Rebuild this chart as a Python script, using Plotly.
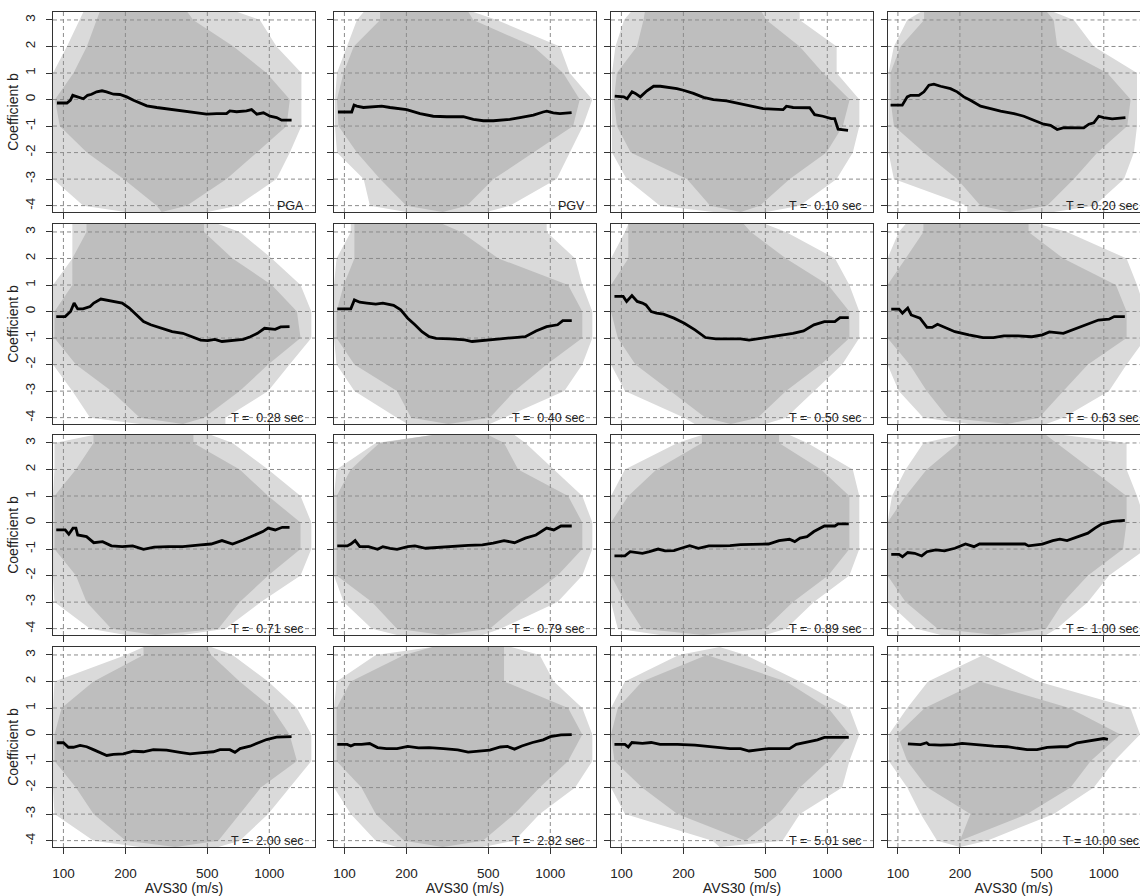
import math
import plotly.graph_objects as go

# ---------------- data ----------------
ENV_Y = [-4.24, -4, -3, -2, -1, 0, 1, 2, 3, 3.3]   # levels where the grey band extents were read
X_TICKS = [100, 200, 500, 1000]
Y_TICKS = [-4, -3, -2, -1, 0, 1, 2, 3]
X_RANGE = [89, 1667]
Y_RANGE = [-4.24, 3.30]
PERIODS = [None, None, 0.10, 0.20, 0.28, 0.40, 0.50, 0.63, 0.71, 0.79, 0.89, 1.00, 2.00, 2.82, 5.01, 10.00]
NAMES = ["PGA", "PGV"]

# PGA
pga_x = [93, 104, 108, 111, 114, 120, 125, 131, 137, 145, 154, 162, 175, 188, 203, 219, 236, 254, 284, 317, 368, 412, 461, 496, 555, 620, 643, 694, 775, 820, 869, 936, 1008, 1085, 1148, 1283]
pga_y = [-0.13, -0.13, -0.03, 0.16, 0.13, 0.08, 0.03, 0.16, 0.2, 0.29, 0.33, 0.29, 0.2, 0.19, 0.1, -0.03, -0.13, -0.24, -0.3, -0.35, -0.4, -0.46, -0.53, -0.55, -0.53, -0.53, -0.43, -0.46, -0.43, -0.38, -0.55, -0.5, -0.63, -0.68, -0.78, -0.78]
pga_out_lo = [200, 125, 89, 89, 89, 89, 89, 104, 120, 125]
pga_out_hi = [500, 700, 1084, 1258, 1432, 1432, 1432, 1084, 900, 700]
pga_den_lo = [300, 284, 196, 130, 96, 91, 112, 130, 145, 150]
pga_den_hi = [300, 397, 620, 869, 1213, 1258, 970, 670, 427, 400]

# PGV
pgv_x = [93, 108.5, 111.4, 114.8, 123.7, 138.3, 151.7, 166.6, 200.6, 233, 270, 314, 378, 423, 473, 529, 636, 712, 828, 923, 962, 1034, 1113, 1269]
pgv_y = [-0.47, -0.47, -0.21, -0.25, -0.3, -0.28, -0.25, -0.3, -0.38, -0.53, -0.63, -0.65, -0.65, -0.75, -0.8, -0.8, -0.75, -0.68, -0.59, -0.47, -0.44, -0.5, -0.53, -0.49]
pgv_out_lo = [200, 133, 124, 92, 90, 90, 92, 103, 115, 124]
pgv_out_hi = [490, 636, 1074, 1242, 1440, 1600, 1242, 1113, 550, 423]
pgv_den_lo = [300, 200, 149, 115, 93.5, 92, 99, 111, 149, 149]
pgv_den_hi = [300, 393, 530, 828, 1290, 1390, 1155, 828, 423, 400]

# T = 0.10
t010_x = [92.8, 102.6, 106.5, 112.6, 116.9, 123.6, 133, 143.3, 154.4, 172.7, 185.9, 200, 223.8, 250.3, 279.7, 324.3, 376, 437, 488, 545, 610, 633, 682, 821, 868, 952, 1046, 1086, 1128, 1261]
t010_y = [0.13, 0.1, 0.03, 0.29, 0.23, 0.1, 0.33, 0.5, 0.5, 0.45, 0.41, 0.35, 0.23, 0.08, 0.0, -0.05, -0.15, -0.25, -0.34, -0.36, -0.38, -0.25, -0.3, -0.31, -0.57, -0.63, -0.72, -0.72, -1.12, -1.16]
t010_out_lo = [280, 154, 106, 90, 90, 90, 90, 93.5, 103, 111]
t010_out_hi = [506, 734, 1110, 1330, 1431, 1431, 1110, 1110, 734, 734]
t010_den_lo = [380, 270, 208, 111, 95, 92, 95, 119, 128, 130]
t010_den_hi = [380, 470, 657, 990, 1190, 1284, 953, 734, 506, 480]

# T = 0.20
t020_x = [92.1, 105, 111, 115.2, 126.4, 133.8, 141.4, 149.5, 161, 180, 194, 209, 225, 252, 282, 315, 366, 409, 457, 511, 551, 594, 640, 715, 799, 846, 894, 945, 999, 1098, 1274]
t020_y = [-0.21, -0.21, 0.1, 0.16, 0.16, 0.29, 0.54, 0.58, 0.5, 0.41, 0.29, 0.1, -0.03, -0.25, -0.34, -0.44, -0.53, -0.63, -0.78, -0.93, -0.97, -1.13, -1.06, -1.07, -1.07, -0.93, -0.88, -0.63, -0.68, -0.73, -0.68]
t020_out_lo = [217, 217, 95.6, 90, 90, 90, 90, 95.6, 111, 129]
t020_out_hi = [571, 900, 1253, 1400, 1450, 1450, 1450, 894, 715, 571]
t020_den_lo = [350, 252, 194, 134, 95.6, 92, 92, 103, 134, 134]
t020_den_hi = [350, 530, 715, 931, 1300, 1350, 1039, 594, 571, 530]

# T = 0.28
t028_x = [92.3, 102, 108.3, 112.7, 117.3, 124.5, 134.8, 140.4, 152, 164.5, 181.8, 192.9, 208.9, 226, 245, 265.4, 299.2, 337.3, 380, 428.5, 464, 502, 544, 589, 663, 747, 809, 876, 948, 1068, 1135, 1254]
t028_y = [-0.19, -0.19, 0.0, 0.32, 0.1, 0.1, 0.19, 0.32, 0.47, 0.42, 0.34, 0.32, 0.13, -0.13, -0.38, -0.5, -0.63, -0.76, -0.82, -0.97, -1.08, -1.1, -1.05, -1.13, -1.1, -1.05, -0.95, -0.82, -0.63, -0.67, -0.58, -0.57]
t028_out_lo = [235, 134.8, 110.5, 89, 89, 89, 89, 110.5, 110.5, 110.5]
t028_out_hi = [612, 612, 987, 1254, 1600, 1600, 1418, 1028, 718, 565]
t028_den_lo = [380, 235, 171, 115, 90.5, 90.5, 110.5, 110.5, 129.5, 129.5]
t028_den_hi = [380, 482, 718, 987, 1418, 1362, 1028, 663, 482, 482]

# T = 0.40
t040_x = [92.3, 107.4, 111.8, 118.7, 128.5, 142, 153.7, 173.3, 187.7, 203, 220, 238, 258, 279, 328, 384, 417, 488, 572, 670, 756, 852, 960, 1085, 1150, 1271]
t040_y = [0.1, 0.1, 0.44, 0.35, 0.32, 0.28, 0.32, 0.23, 0.06, -0.25, -0.5, -0.76, -0.95, -1.01, -1.03, -1.07, -1.13, -1.07, -1.03, -0.98, -0.95, -0.73, -0.57, -0.5, -0.34, -0.34]
t040_out_lo = [203, 180, 111.8, 91.6, 89, 89, 89, 91.6, 107.4, 107.4]
t040_out_hi = [508, 596, 1170, 1430, 1600, 1600, 1430, 1320, 960, 960]
t040_den_lo = [320, 211, 180, 111.8, 91.6, 91.6, 99.2, 111.8, 111.8, 111.8]
t040_den_hi = [320, 508, 670, 960, 1430, 1430, 1220, 560, 369, 300]

# T = 0.50
t050_x = [92.5, 102, 106, 112.5, 119.3, 126.5, 131.5, 139.5, 147.9, 160, 180, 202, 227.6, 256, 288, 337, 379, 417, 460, 518, 583, 681, 767, 861, 968, 1088, 1153, 1271]
t050_y = [0.57, 0.57, 0.38, 0.6, 0.38, 0.32, 0.25, 0.0, -0.06, -0.1, -0.25, -0.44, -0.69, -0.98, -1.03, -1.03, -1.03, -1.08, -1.03, -0.95, -0.91, -0.82, -0.73, -0.5, -0.38, -0.38, -0.23, -0.23]
t050_out_lo = [227, 202, 104, 89, 89, 89, 89, 89, 104, 108]
t050_out_hi = [499, 630, 860, 1181, 1430, 1430, 1280, 1090, 630, 499]
t050_den_lo = [340, 256, 173, 117, 96, 89, 89, 108, 108, 108]
t050_den_hi = [340, 460, 630, 932, 1280, 1280, 1010, 630, 425, 393]

# T = 0.63
t063_x = [92.8, 101.2, 105.2, 111.6, 116, 128, 138.4, 146.7, 155.7, 168.3, 189.1, 221, 259, 291, 327, 383, 448, 503, 544, 636, 716, 837, 942, 1060, 1124, 1265]
t063_y = [0.09, 0.09, -0.06, 0.13, -0.13, -0.25, -0.6, -0.6, -0.48, -0.6, -0.76, -0.88, -0.98, -0.98, -0.92, -0.92, -0.95, -0.88, -0.77, -0.82, -0.67, -0.48, -0.32, -0.29, -0.19, -0.19]
t063_out_lo = [221, 133, 101, 89, 89, 89, 89, 89, 101, 109]
t063_out_hi = [524, 636, 1060, 1290, 1600, 1600, 1450, 1290, 662, 484]
t063_den_lo = [340, 175, 138, 114, 89, 89, 89, 109, 133, 133]
t063_den_hi = [340, 484, 636, 837, 1290, 1290, 1145, 636, 431, 431]

# T = 0.71
t071_x = [92.3, 102, 106.2, 111.3, 115, 117.3, 129.5, 140.4, 155, 171, 193, 217, 245, 276, 324, 380, 464, 522, 589, 663, 747, 842, 930, 987, 1068, 1156, 1254]
t071_y = [-0.28, -0.28, -0.44, -0.21, -0.21, -0.47, -0.53, -0.76, -0.72, -0.88, -0.91, -0.88, -1.01, -0.93, -0.91, -0.91, -0.84, -0.81, -0.68, -0.81, -0.66, -0.47, -0.34, -0.21, -0.28, -0.18, -0.18]
t071_out_lo = [201, 134.8, 90.5, 89, 89, 89, 89, 90.5, 90.5, 140]
t071_out_hi = [380, 612, 910, 1418, 1600, 1600, 1418, 987, 663, 522]
t071_den_lo = [280, 171, 129.5, 115, 90.5, 90.5, 90.5, 115, 140, 140]
t071_den_hi = [280, 565, 718, 987, 1418, 1418, 987, 718, 428, 428]

# T = 0.79
t079_x = [92.3, 103.2, 107.4, 112.7, 118.7, 131, 144.9, 153.7, 166.5, 180.2, 203, 220, 248, 290, 341, 399, 468, 528, 596, 670, 756, 852, 960, 1040, 1127, 1271]
t079_y = [-0.88, -0.88, -0.81, -0.68, -0.91, -0.91, -1.01, -0.91, -0.97, -1.01, -0.91, -0.88, -0.97, -0.93, -0.91, -0.86, -0.84, -0.78, -0.68, -0.76, -0.59, -0.47, -0.21, -0.28, -0.13, -0.13]
t079_out_lo = [180, 136, 99.2, 89, 89, 89, 89, 91.6, 142, 268]
t079_out_hi = [470, 573, 1085, 1430, 1600, 1600, 1430, 1040, 757, 670]
t079_den_lo = [300, 180, 136, 91.6, 91.6, 91.6, 91.6, 107.4, 148, 268]
t079_den_hi = [300, 508, 727, 1085, 1430, 1430, 1220, 698, 596, 500]

# T = 0.89
t089_x = [92.5, 104, 110.3, 117, 126.5, 136.8, 150.8, 163, 180, 195, 214.5, 236.6, 266, 299, 337, 379, 426, 479, 518, 583, 655, 695, 737, 797, 861, 968, 1088, 1130, 1271]
t089_y = [-1.26, -1.26, -1.1, -1.13, -1.16, -1.1, -1.0, -1.07, -1.06, -0.97, -0.87, -0.97, -0.88, -0.88, -0.87, -0.83, -0.83, -0.82, -0.81, -0.68, -0.63, -0.72, -0.59, -0.53, -0.34, -0.13, -0.13, -0.05, -0.05]
t089_out_lo = [154, 96, 89, 89, 89, 89, 89, 104, 187, 246]
t089_out_hi = [499, 630, 860, 1280, 1430, 1430, 1430, 1330, 800, 655]
t089_den_lo = [250, 126, 104, 89, 89, 89, 108, 148, 246, 246]
t089_den_hi = [250, 499, 681, 1010, 1280, 1280, 1280, 932, 583, 583]

# T = 1.00
t100_x = [92.8, 101.2, 105.2, 111.6, 120.6, 130.5, 138.4, 152.6, 168.3, 189.1, 213, 234, 249, 291, 354, 414, 431, 503, 565, 612, 663, 745, 837, 906, 980, 1102, 1265]
t100_y = [-1.2, -1.2, -1.29, -1.13, -1.16, -1.26, -1.1, -1.03, -1.07, -0.97, -0.81, -0.91, -0.81, -0.81, -0.81, -0.81, -0.88, -0.81, -0.68, -0.63, -0.68, -0.53, -0.4, -0.21, -0.05, 0.04, 0.08]
t100_out_lo = [162, 123, 89, 89, 89, 89, 93.6, 109, 133, 197]
t100_out_hi = [524, 590, 837, 1060, 1600, 1600, 1450, 1290, 1290, 636]
t100_den_lo = [300, 156, 109, 89, 89, 89, 109, 138, 197, 197]
t100_den_hi = [300, 524, 636, 837, 1240, 1290, 1290, 870, 590, 524]

# T = 2.00
t200_x = [92.8, 100, 105.7, 111.8, 120.5, 129.8, 139.8, 150.6, 162.4, 174.9, 195.5, 218.6, 244.5, 273.4, 317, 368, 412, 461, 535, 576, 643, 681, 721, 806, 901, 970, 1085, 1168, 1283]
t200_y = [-0.31, -0.31, -0.48, -0.48, -0.41, -0.46, -0.57, -0.69, -0.79, -0.75, -0.73, -0.63, -0.65, -0.57, -0.59, -0.67, -0.73, -0.69, -0.65, -0.57, -0.57, -0.67, -0.53, -0.44, -0.29, -0.19, -0.1, -0.08, -0.08]
t200_out_lo = [235, 140, 90.5, 89, 89, 89, 89, 90.5, 201, 245]
t200_out_hi = [565, 718, 987, 1254, 1600, 1600, 1362, 987, 663, 522]
t200_den_lo = [350, 201, 140, 115, 90.5, 90.5, 98, 140, 245, 245]
t200_den_hi = [350, 565, 718, 910, 1362, 1254, 1028, 718, 522, 500]

# T = 2.82
t282_x = [92.3, 103.2, 107.4, 111.8, 121, 132.6, 144.9, 160, 180.2, 203, 229, 258, 303, 355, 399, 451, 508, 572, 620, 670, 727, 820, 923, 1000, 1127, 1271]
t282_y = [-0.37, -0.37, -0.43, -0.37, -0.37, -0.34, -0.49, -0.53, -0.53, -0.45, -0.5, -0.49, -0.53, -0.58, -0.66, -0.63, -0.59, -0.47, -0.45, -0.55, -0.43, -0.3, -0.2, -0.08, -0.01, 0.0]
t282_out_lo = [180, 142, 107.4, 89, 89, 89, 89, 91.6, 142, 268]
t282_out_hi = [470, 670, 888, 1320, 1600, 1600, 1430, 1040, 888, 645]
t282_den_lo = [300, 195, 142, 121, 91.6, 91.6, 91.6, 107.4, 195, 268]
t282_den_hi = [300, 470, 670, 888, 1220, 1430, 1220, 596, 596, 596]

# T = 5.01
t501_x = [92.5, 104, 108, 112.5, 126.5, 139.5, 154, 187, 227.6, 277, 337, 379, 417, 460, 518, 583, 655, 707, 797, 896, 968, 1088, 1271]
t501_y = [-0.37, -0.37, -0.47, -0.3, -0.33, -0.3, -0.37, -0.37, -0.4, -0.47, -0.53, -0.53, -0.62, -0.58, -0.53, -0.53, -0.53, -0.37, -0.28, -0.2, -0.11, -0.11, -0.11]
t501_out_lo = [300, 277, 104, 89, 89, 89, 89, 104, 190, 300]
t501_out_hi = [300, 606, 736, 1181, 1280, 1430, 1280, 736, 400, 300]
t501_den_lo = [400, 400, 187, 126, 92.5, 89, 96, 126, 260, 260]
t501_den_hi = [400, 400, 583, 736, 1010, 1280, 1010, 630, 260, 260]

# T = 10.00
t1000_x = [111.8, 128.8, 137.8, 141.4, 161, 187, 205, 217, 252, 292, 339, 394, 424, 474, 531, 616, 664, 742, 829, 926, 1000, 1047]
t1000_y = [-0.35, -0.38, -0.31, -0.38, -0.4, -0.38, -0.33, -0.35, -0.4, -0.44, -0.46, -0.53, -0.57, -0.57, -0.48, -0.46, -0.46, -0.31, -0.25, -0.19, -0.15, -0.18]
t1000_out_lo = [200, 155, 129, 111, 90.4, 90.4, 111, 140, 260, 260]
t1000_out_hi = [200, 271, 571, 894, 1124, 1500, 1346, 480, 260, 260]
t1000_den_lo = [200, 200, 225, 139, 111, 99.3, 135, 250, 250, 250]
t1000_den_hi = [200, 200, 424, 689, 863, 1205, 680, 250, 250, 250]

PANELS = [
    (pga_x, pga_y, pga_out_lo, pga_out_hi, pga_den_lo, pga_den_hi),
    (pgv_x, pgv_y, pgv_out_lo, pgv_out_hi, pgv_den_lo, pgv_den_hi),
    (t010_x, t010_y, t010_out_lo, t010_out_hi, t010_den_lo, t010_den_hi),
    (t020_x, t020_y, t020_out_lo, t020_out_hi, t020_den_lo, t020_den_hi),
    (t028_x, t028_y, t028_out_lo, t028_out_hi, t028_den_lo, t028_den_hi),
    (t040_x, t040_y, t040_out_lo, t040_out_hi, t040_den_lo, t040_den_hi),
    (t050_x, t050_y, t050_out_lo, t050_out_hi, t050_den_lo, t050_den_hi),
    (t063_x, t063_y, t063_out_lo, t063_out_hi, t063_den_lo, t063_den_hi),
    (t071_x, t071_y, t071_out_lo, t071_out_hi, t071_den_lo, t071_den_hi),
    (t079_x, t079_y, t079_out_lo, t079_out_hi, t079_den_lo, t079_den_hi),
    (t089_x, t089_y, t089_out_lo, t089_out_hi, t089_den_lo, t089_den_hi),
    (t100_x, t100_y, t100_out_lo, t100_out_hi, t100_den_lo, t100_den_hi),
    (t200_x, t200_y, t200_out_lo, t200_out_hi, t200_den_lo, t200_den_hi),
    (t282_x, t282_y, t282_out_lo, t282_out_hi, t282_den_lo, t282_den_hi),
    (t501_x, t501_y, t501_out_lo, t501_out_hi, t501_den_lo, t501_den_hi),
    (t1000_x, t1000_y, t1000_out_lo, t1000_out_hi, t1000_den_lo, t1000_den_hi),
]

# ---------------- layout geometry (pixels) ----------------
W, H = 1140, 896
COL_LEFT = [53, 334, 611, 887.5]
ROW_TOP = [12, 224, 435, 647]
PW, PH = 262, 200
FONT = "Liberation Sans, Arial, sans-serif"
OUTER_COL = "#dadada"
DENSE_COL = "#bebebe"
GRID_COL = "#8c8c8c"
AX_COL = "#333333"
TXT_COL = "#222222"

L0 = math.log10(X_RANGE[0])
L1 = math.log10(X_RANGE[1])
PX_PER_DEC = PW / (L1 - L0)


def label_for(i):
    if PERIODS[i] is None:
        return NAMES[i]
    return ("T = " + "%5.2f" % PERIODS[i] + " sec").replace(" ", "\u00a0")


fig = go.Figure()
layout = dict(
    width=W, height=H, margin=dict(l=0, r=0, t=0, b=0, pad=0),
    paper_bgcolor="white", plot_bgcolor="white", showlegend=False,
    font=dict(family=FONT, color=TXT_COL, size=13),
    annotations=[],
)

for i, (lx, ly, olo, ohi, dlo, dhi) in enumerate(PANELS):
    r, c = divmod(i, 4)
    k = "" if i == 0 else str(i + 1)
    xa, ya = "x" + k, "y" + k
    x0 = COL_LEFT[c]
    x1 = min(x0 + PW, W)
    top = ROW_TOP[r]
    xr = [L0, L0 + (x1 - x0) / PX_PER_DEC]

    # grey band: outer (sparse) and dense part
    fig.add_trace(go.Scatter(x=olo + ohi[::-1], y=ENV_Y + ENV_Y[::-1], fill="toself",
                             fillcolor=OUTER_COL, mode="lines", line=dict(width=0, color=OUTER_COL),
                             hoverinfo="skip", xaxis=xa, yaxis=ya))
    fig.add_trace(go.Scatter(x=dlo + dhi[::-1], y=ENV_Y + ENV_Y[::-1], fill="toself",
                             fillcolor=DENSE_COL, mode="lines", line=dict(width=0, color=DENSE_COL),
                             hoverinfo="skip", xaxis=xa, yaxis=ya))
    # dashed grid on top of the band
    gx, gy = [], []
    for v in X_TICKS:
        gx += [v, v, None]
        gy += [Y_RANGE[0], Y_RANGE[1], None]
    for v in Y_TICKS:
        gx += [X_RANGE[0], X_RANGE[1], None]
        gy += [v, v, None]
    fig.add_trace(go.Scatter(x=gx, y=gy, mode="lines",
                             line=dict(color=GRID_COL, width=1, dash="4px,3px"),
                             hoverinfo="skip", xaxis=xa, yaxis=ya))
    # black curve
    fig.add_trace(go.Scatter(x=lx, y=ly, mode="lines", line=dict(color="black", width=2.8),
                             hoverinfo="skip", xaxis=xa, yaxis=ya))

    xdom = [x0 / W, x1 / W]
    ydom = [1 - (top + PH) / H, 1 - top / H]
    layout["xaxis" + k] = dict(
        type="log", range=xr, domain=xdom, anchor=ya,
        showgrid=False, zeroline=False, showline=True, linecolor=AX_COL, linewidth=1, mirror=True,
        ticks="outside", ticklen=6, tickwidth=1, tickcolor=AX_COL,
        tickvals=X_TICKS, ticktext=[str(v) for v in X_TICKS],
        showticklabels=(r == 3), ticklabelstandoff=8,
        tickfont=dict(size=13.5, family=FONT, color=TXT_COL),
        title=dict(text="AVS30 (m/s)" if r == 3 else "", font=dict(size=14, family=FONT, color=TXT_COL), standoff=4),
        fixedrange=True,
    )
    layout["yaxis" + k] = dict(
        range=Y_RANGE, domain=ydom, anchor=xa,
        showgrid=False, zeroline=False, showline=True, linecolor=AX_COL, linewidth=1,
        mirror=(c != 3),
        ticks="outside", ticklen=6, tickwidth=1, tickcolor=AX_COL,
        tickvals=Y_TICKS, ticktext=[str(v) for v in Y_TICKS], tickangle=-90,
        showticklabels=(c == 0), ticklabelstandoff=6,
        tickfont=dict(size=13.5, family=FONT, color=TXT_COL),
        title=dict(text="Coefficient b" if c == 0 else "", font=dict(size=14, family=FONT, color=TXT_COL), standoff=0),
        fixedrange=True,
    )
    # panel label, bottom-right, centred on the y = -4 line
    y_m4 = 1 - (top + PH * (Y_RANGE[1] - (-4)) / (Y_RANGE[1] - Y_RANGE[0])) / H
    layout["annotations"].append(dict(
        text=label_for(i), xref="paper", yref="paper",
        x=(x0 + PW - 9) / W, y=y_m4, xanchor="right", yanchor="middle",
        showarrow=False, font=dict(size=12.5, family=FONT, color=TXT_COL),
    ))

fig.update_layout(**layout)
fig.write_html("out.html", config={"displayModeBar": False, "staticPlot": True},
               post_script="document.body.style.margin='0';document.body.style.overflow='hidden';")
